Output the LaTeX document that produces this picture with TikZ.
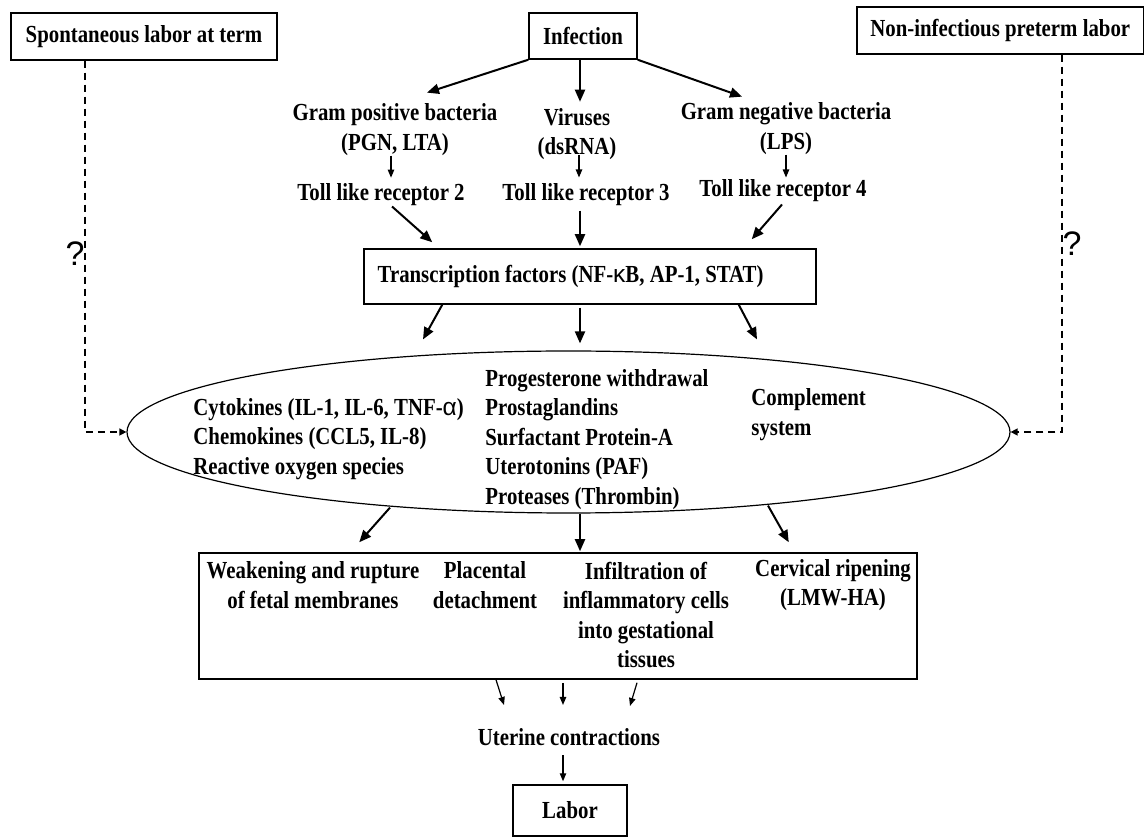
\documentclass[tikz,border=0pt]{standalone}
\usepackage{fontspec}
\setmainfont{Liberation Serif}[FakeStretch=0.85]
\newfontfamily\qmarkfont{Liberation Sans}
\usetikzlibrary{shapes.geometric,arrows.meta}
\begin{document}
\begin{tikzpicture}[x=0.5pt,y=-0.5pt,every node/.style={font=\fontsize{12.25}{14.75}\selectfont\bfseries,inner sep=0pt,align=center},stage/.style={draw=black,line width=0.75pt},leads/.style={line width=1pt,-{Triangle[length=6pt,width=5pt]}},feeds/.style={line width=0.6pt,-{Triangle[length=4pt,width=3.2pt]}},unclear/.style={line width=0.7pt,dash pattern=on 3.5pt off 2.5pt,-{Triangle[length=3.5pt,width=3.5pt]}}]
\useasboundingbox (0,0) rectangle (1145,838);
\node[stage,minimum width=133pt,minimum height=23.5pt] (spont) at (144,36.5) {Spontaneous labor at term};
\node[stage,minimum width=54pt,minimum height=23pt] (infect) at (583,36) {Infection};
\node[stage,minimum width=143.25pt,minimum height=23.5pt] (noninf) at (1000.25,30.5) {Non-infectious preterm labor};
\node (gpos) at (395,129.5) {Gram positive bacteria\\(PGN, LTA)};
\node (virus) at (577,134) {Viruses\\(dsRNA)};
\node (gneg) at (786,128.5) {Gram negative bacteria\\(LPS)};
\node (tlr2) at (381,195) {Toll like receptor 2};
\node (tlr3) at (586,195) {Toll like receptor 3};
\node (tlr4) at (783,191) {Toll like receptor 4};
\node[stage,minimum width=226pt,minimum height=27.5pt] (tf) at (590,276.5) {};
\node[anchor=west] (tflabel) at ([xshift=7pt]tf.west) {Transcription factors (NF-{\qmarkfont\mdseries κ}B, AP-1, STAT)};
\node[draw,ellipse,line width=0.6pt,minimum width=441.5pt,minimum height=81pt] (ell) at (568.5,432) {};
\node[anchor=west,align=left] (cyto) at (193,439) {Cytokines (IL-1, IL-6, TNF-{\qmarkfont\mdseries α})\\Chemokines (CCL5, IL-8)\\Reactive oxygen species};
\node[anchor=west,align=left] (prog) at (485,439.5) {Progesterone withdrawal\\Prostaglandins\\Surfactant Protein-A\\Uterotonins (PAF)\\Proteases (Thrombin)};
\node[anchor=west,align=left] (compl) at (751,414.5) {Complement\\system};
\node[stage,minimum width=359pt,minimum height=63pt] (effects) at (558,616) {};
\node (weak) at (313,585) {Weakening and rupture\\of fetal membranes};
\node (plac) at (485,585) {Placental\\detachment};
\node (infil) at (646,615) {Infiltration of\\inflammatory cells\\into gestational\\tissues};
\node (cerv) at (833,585) {Cervical ripening\\(LMW-HA)};
\node (uterine) at (569,737) {Uterine contractions};
\node[stage,minimum width=57pt,minimum height=25.5pt] (labor) at (570,810.5) {Labor};
\node[font=\qmarkfont\fontsize{17}{17}\selectfont] (qleft) at (75,254) {?};
\node[font=\qmarkfont\fontsize{17}{17}\selectfont] (qright) at (1072,244) {?};
\draw[leads] (infect.south west) -- ([xshift=16pt,yshift=5.3pt]gpos.north);
\draw[leads,shorten >=3pt] ([xshift=-1.5pt]infect.south) -- ([xshift=1.5pt]virus.north);
\draw[leads] (infect.south east) -- ([xshift=-22pt,yshift=2.8pt]gneg.north);
\draw[feeds,shorten >=2.9pt] ([xshift=-2pt]gpos.south) -- ([xshift=5pt]tlr2.north);
\draw[feeds] ([xshift=1pt,yshift=2.5pt]virus.south) -- ([xshift=-3.5pt,yshift=3pt]tlr3.north);
\draw[feeds] (gneg.south) -- ([xshift=1.5pt,yshift=1pt]tlr4.north);
\draw[leads] ([xshift=5.5pt]tlr2.south) -- ([xshift=34.5pt,yshift=3pt]tf.north west);
\draw[leads] ([xshift=-3pt,yshift=-2pt]tlr3.south) -- ([xshift=-5pt,yshift=1pt]tf.north);
\draw[leads] ([xshift=-0.5pt,yshift=-1pt]tlr4.south) -- ([xshift=-32.5pt,yshift=4.5pt]tf.north east);
\draw[leads] ([xshift=39.5pt]tf.south west) -- ([xshift=-72.75pt,yshift=5.5pt]ell.north);
\draw[leads] ([xshift=-5pt,yshift=-1.5pt]tf.south) -- ([xshift=5.75pt,yshift=3.5pt]ell.north);
\draw[leads] ([xshift=-39pt]tf.south east) -- ([xshift=94.25pt,yshift=5.5pt]ell.north);
\draw[leads] ([xshift=-89.25pt,yshift=3pt]ell.south) -- ([xshift=80.5pt,yshift=5pt]effects.north west);
\draw[leads] ([xshift=5.75pt]ell.south) -- ([xshift=11pt,yshift=0.5pt]effects.north);
\draw[leads] ([xshift=99.75pt,yshift=4pt]ell.south) -- ([xshift=-64.5pt,yshift=5pt]effects.north east);
\draw[feeds] ([xshift=-31pt]effects.south) -- ([xshift=-32.5pt,yshift=11.5pt]uterine.north);
\draw[feeds] ([xshift=2.5pt,yshift=-1.5pt]effects.south) -- ([xshift=-3pt,yshift=11.5pt]uterine.north);
\draw[feeds] ([xshift=39.5pt,yshift=-1.5pt]effects.south) -- ([xshift=30.5pt,yshift=11pt]uterine.north);
\draw[feeds] ([xshift=-3pt,yshift=-4.5pt]uterine.south) -- ([xshift=-3.5pt,yshift=1.5pt]labor.north);
\draw[unclear] ([xshift=-29.5pt]spont.south) |- (ell.west);
\draw[unclear] ([xshift=30.9pt]noninf.south) |- (ell.east);
\end{tikzpicture}
\end{document}
